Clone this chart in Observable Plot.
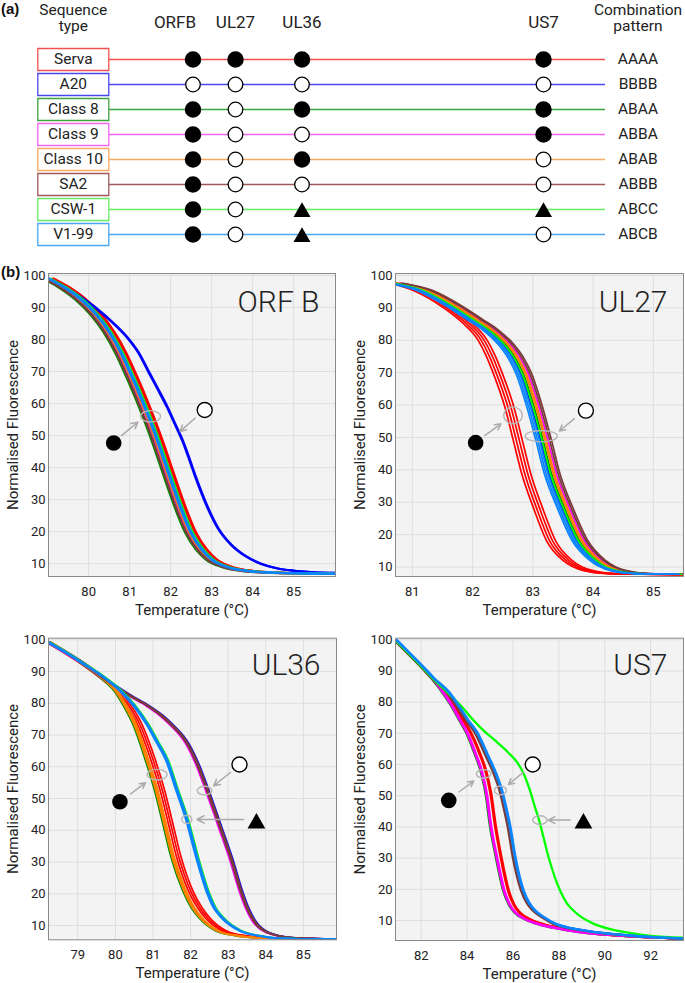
<!DOCTYPE html>
<html>
<head>
<meta charset="utf-8">
<script src="https://cdn.jsdelivr.net/npm/d3@7"></script>
<script src="https://cdn.jsdelivr.net/npm/@observablehq/plot@0.6"></script>
<style>
html,body{margin:0;padding:0;background:#fff;}
#fig{position:relative;width:685px;height:983px;overflow:hidden;font-family:Roboto,"DejaVu Sans",sans-serif;color:#222;}
.tag{position:absolute;font-family:"Liberation Sans",Arial,sans-serif;font-weight:bold;font-size:15px;color:#111;}
</style>
</head>
<body>
<div id="fig"></div>
<script>
// ---------------- DATA ----------------
const strains  = ["Serva", "A20", "Class 8", "Class 9", "Class 10", "SA2", "CSW-1", "V1-99"];
const patterns = ["AAAA", "BBBB", "ABAA", "ABBA", "ABAB", "ABBB", "ABCC", "ABCB"];
const genes      = ["ORFB", "UL27", "UL36", "US7"];
const geneTitles = ["ORF B", "UL27", "UL36", "US7"];

// melt curves per allele: [temperature (°C), normalised fluorescence]
const orfbA = [[79.02,99.0],[79.4,96.3],[79.8,92.6],[80.2,87.5],[80.5,82.3],[80.8,75.5],[81.05,68.5],[81.3,61],[81.5,54.5],[81.7,47.5],[81.9,40],[82.1,32.5],[82.3,25.5],[82.5,19.5],[82.75,14.5],[83.0,11.3],[83.4,8.9],[83.9,7.7],[84.5,7.2],[85.2,7.0],[86.02,6.9]];
const orfbB = [[79.02,99.0],[79.4,96.4],[79.8,93.2],[80.2,89.5],[80.6,85],[80.94,80.5],[81.2,76],[81.47,69.5],[81.7,64],[81.91,58.8],[82.1,53.5],[82.28,48.4],[82.45,42.5],[82.6,37],[82.89,27.6],[83.15,21],[83.46,16],[83.8,12.5],[84.19,10],[84.6,8.5],[85.0,7.8],[85.5,7.3],[86.02,7.1]];
const ul27A = [[80.72,97.6],[81.1,95.3],[81.58,90.2],[81.9,85.5],[82.17,79.9],[82.3,75.2],[82.42,69.7],[82.61,59.4],[82.75,49.1],[82.89,38.8],[83.08,28.5],[83.3,18.2],[83.58,12],[83.92,8.9],[84.3,8.0],[84.8,7.8],[85.5,7.7]];
const ul27B = [[80.72,97.6],[81.2,95.4],[81.69,90.6],[82.03,86.5],[82.31,83],[82.55,78.8],[82.72,74.5],[82.85,69.7],[83.03,59.4],[83.18,49.1],[83.32,38.8],[83.53,28.5],[83.78,18.2],[84.08,12],[84.42,8.9],[84.8,8.0],[85.5,7.8]];
const ul36A = [[78.22,99.2],[78.7,95.8],[79.16,92.2],[79.6,88.3],[80.0,83.8],[80.25,79],[80.49,73.5],[80.8,63],[81.07,52.5],[81.29,42],[81.51,31.4],[81.82,20.9],[82.05,15.5],[82.26,12.3],[82.7,8.3],[83.2,6.8],[83.8,6.1],[84.8,5.8],[85.88,5.7]];
const ul36B = [[78.22,99.2],[79.16,92.4],[79.96,85.6],[80.4,82.3],[80.84,79.3],[81.2,76.3],[81.46,73.5],[81.91,67.2],[82.17,60.9],[82.44,52.5],[82.75,42],[83.06,31.4],[83.33,20.9],[83.5,15.5],[83.68,11.4],[84.04,7.8],[84.66,6.2],[85.3,5.9],[85.88,5.8]];
const ul36C = [[78.22,99.2],[78.7,95.9],[79.16,92.4],[79.6,89],[80.13,84],[80.5,79.2],[80.84,73.5],[81.1,68],[81.37,62],[81.64,52.5],[81.9,43.4],[82.17,31.4],[82.44,20.9],[82.64,15.5],[82.84,12.5],[83.33,8.3],[83.8,6.8],[84.3,6.0],[85.0,5.8],[85.88,5.7]];
const us7A  = [[80.88,99.8],[81.5,95.2],[82.04,91.2],[82.5,87.4],[82.91,83.5],[83.3,79.2],[83.7,74],[84.0,70],[84.3,64.5],[84.65,57],[84.85,50],[85.01,41],[85.28,30.3],[85.6,19.6],[85.85,15],[86.1,12.5],[86.6,10.2],[87.17,8.7],[88.0,7.4],[88.62,6.6],[89.5,5.8],[90.8,5.1],[92.0,4.6],[93.43,4.2]];
const us7B  = [[80.88,99.8],[81.5,95.2],[82.04,91.2],[82.5,87.6],[83.13,83.3],[83.6,78.5],[84.0,74],[84.36,70.4],[84.87,62.4],[85.2,57],[85.45,51.7],[85.65,45.5],[85.81,40],[86.03,30.3],[86.39,19.6],[86.65,15.5],[86.9,13.2],[87.3,11],[87.77,9],[88.5,7.5],[89.07,6.8],[90.0,5.9],[91.0,5.2],[92.2,4.6],[93.43,4.2]];
const us7C  = [[80.88,99.8],[81.5,95.2],[82.04,91.2],[82.5,87.6],[83.13,83.2],[83.8,78.3],[84.3,74],[84.72,70.9],[85.3,67.2],[85.8,63.8],[86.2,60.5],[86.5,56.5],[86.75,51.5],[86.95,46.5],[87.12,42.6],[87.55,30.3],[88.05,19.6],[88.35,15.5],[88.63,13.2],[89.0,11],[89.5,9],[90.2,7.3],[90.95,6.2],[92.0,5.1],[93.43,4.5]];
// Serva traces that leave their allele band
const ul36Serva = [[78.22,99.2],[78.7,95.8],[79.16,92.3],[79.6,88.5],[80.0,84.5],[80.3,80.2],[80.6,74.5],[80.95,64],[81.25,52.5],[81.47,42],[81.69,31.4],[82.0,20.9],[82.25,15.5],[82.46,12.3],[82.9,8.3],[83.4,6.8],[84.0,6.1],[84.9,5.8],[85.88,5.7]];
const us7Serva  = [[80.88,99.8],[81.5,95.2],[82.04,91.2],[82.5,87.5],[82.91,83.7],[83.35,79.5],[83.85,74],[84.17,70],[84.5,64.5],[84.85,57],[85.05,50],[85.22,41],[85.48,30.3],[85.8,19.6],[86.05,15],[86.3,12.5],[86.8,10.2],[87.37,8.7],[88.2,7.4],[88.8,6.6],[89.6,5.8],[90.8,5.1],[92.0,4.6],[93.43,4.2]];

// replicate traces of each strain: temperature shift (°C) from its curve
const orfbShifts = [[0.10,0.13],[0,0.02],[-0.14],[-0.06],[-0.04],[-0.11],[0.05],[-0.01,0.02]];
const ul27Shifts = [[-0.075,-0.025,0.025,0.075],[-0.05],[-0.01],[0.07],[0.02,0.04],[0.10,0.13],[-0.03],[-0.13,-0.10,-0.07]];
const ul36Shifts = [[-0.06,0.0,0.06],[0.05],[-0.03],[-0.04],[0.0,0.03,0.06],[-0.01,0.01,0.03],[0.04],[-0.03,0.0,0.02]];
const us7Shifts  = [[-0.02,0.02],[0.02],[-0.03],[0.0,0.03],[0.0],[-0.04],[0.0],[0.05,0.08]];

// tick values
const orfbTicks = [80, 81, 82, 83, 84, 85];
const ul27Ticks = [81, 82, 83, 84, 85];
const ul36Ticks = [79, 80, 81, 82, 83, 84, 85];
const us7Ticks  = [82, 84, 86, 88, 90, 92];
const fluorTicks = [10, 20, 30, 40, 50, 60, 70, 80, 90, 100];

// ---------------- STYLE / LAYOUT ----------------
const FONT = "Roboto, 'DejaVu Sans', sans-serif";
const boxColors   = ["#f45050", "#4848f0", "#3fa33f", "#f466f4", "#f8a860", "#a05a5a", "#66ee66", "#4aa6f0"];
const curveColors = ["#ff0000", "#0000ff", "#008c00", "#ff00ff", "#ff8000", "#7a3b3b", "#00ff00", "#0a84ff"];

const meltCurves = {ORFB: {A: orfbA, B: orfbB}, UL27: {A: ul27A, B: ul27B}, UL36: {A: ul36A, B: ul36B, C: ul36C}, US7: {A: us7A, B: us7B, C: us7C}};
const strainCurves = {UL36: {"Serva": ul36Serva}, US7: {"Serva": us7Serva}};
const traceShifts = {ORFB: orfbShifts, UL27: ul27Shifts, UL36: ul36Shifts, US7: us7Shifts};
const tempTicks = {ORFB: orfbTicks, UL27: ul27Ticks, UL36: ul36Ticks, US7: us7Ticks};

const layoutA = {
  boxX: 72.8, boxW: 71, boxH: 22, lineX1: 108.3, lineX2: 605, patternX: 637.5, rowRange: [56.5, 236.5],
  geneX: {ORFB: 192.5, UL27: 235, UL36: 301.5, US7: 543},
  geneHeadX: {ORFB: 174.5, UL27: 235, UL36: 301.5, US7: 543}
};
const panelLayout = {
  ORFB: {left: 0,   top: 250, width: 345, height: 375, margin: [23, 10, 49, 48],     xDomain: [79.02, 86.02], yDomain: [6.0, 100.6], xLabelDy: 34,   titleDy: 29, lineWidth: 2.2},
  UL27: {left: 345, top: 250, width: 340, height: 375, margin: [23, 2, 49, 50],      xDomain: [80.72, 85.5],  yDomain: [7.1, 100.6], xLabelDy: 34,   titleDy: 29, lineWidth: 1.7},
  UL36: {left: 0,   top: 625, width: 345, height: 358, margin: [12.7, 9, 43.7, 48],  xDomain: [78.22, 85.88], yDomain: [5.5, 100.5], xLabelDy: 33.5, titleDy: 27, lineWidth: 1.7},
  US7:  {left: 345, top: 625, width: 340, height: 358, margin: [12.7, 2, 43, 50],    xDomain: [80.88, 93.43], yDomain: [3.6, 100.5], xLabelDy: 33.5, titleDy: 27, lineWidth: 2.3}
};
// annotation glyphs in data units: [temperature, fluorescence]; rings: [t, f, rx(px), ry(px)]
const notes = {
  ORFB: {filled: [80.61, 47.7], open: [82.83, 58.0], tri: null,
         arrows: [[80.80, 50.0, 81.20, 54.2], [82.60, 55.5, 82.23, 51.3]],
         rings: [[81.51, 56.0, 10, 5.7]]},
  UL27: {filled: [82.05, 48.4], open: [83.88, 58.3], tri: null,
         arrows: [[82.20, 50.6, 82.47, 54.2], [83.69, 55.8, 83.44, 52.0]],
         rings: [[82.67, 56.8, 9.3, 8.3], [83.14, 50.4, 16, 5.7]]},
  UL36: {filled: [80.12, 49.0], open: [83.30, 60.7], tri: [83.75, 43.0],
         arrows: [[80.40, 51.4, 80.80, 55.0], [83.06, 58.2, 82.61, 54.0], [83.41, 43.4, 82.17, 43.4]],
         rings: [[81.11, 57.5, 10, 5.3], [82.37, 52.5, 7.3, 4.3], [81.90, 43.4, 5, 4]]},
  US7:  {filled: [83.20, 48.5], open: [86.86, 60.0], tri: [89.07, 42.0],
         arrows: [[83.64, 51.2, 84.29, 54.7], [86.45, 57.5, 85.80, 53.6], [88.49, 42.2, 87.54, 42.2]],
         rings: [[84.72, 57.0, 7.3, 4.3], [85.45, 51.7, 6, 4.3], [87.17, 42.2, 7.3, 4.3]]}
};

// ---------------- RENDER ----------------
const fig = document.getElementById("fig");
function place(node, left, top) {
  node.style.position = "absolute";
  node.style.left = left + "px";
  node.style.top = top + "px";
  fig.appendChild(node);
}
function tag(text, left, top) {
  const d = document.createElement("div");
  d.className = "tag"; d.textContent = text;
  d.style.left = left + "px"; d.style.top = top + "px";
  fig.appendChild(d);
}
function ellipse(rx, ry) {
  const k = 0.5523;
  return {draw(ctx) {
    ctx.moveTo(rx, 0);
    ctx.bezierCurveTo(rx, ry * k, rx * k, ry, 0, ry);
    ctx.bezierCurveTo(-rx * k, ry, -rx, ry * k, -rx, 0);
    ctx.bezierCurveTo(-rx, -ry * k, -rx * k, -ry, 0, -ry);
    ctx.bezierCurveTo(rx * k, -ry, rx, -ry * k, rx, 0);
    ctx.closePath();
  }};
}

// ----- panel (a)
const A = layoutA;
const rows = strains.map((s, i) => ({strain: s, pattern: patterns[i]}));
const calls = [];
strains.forEach((s, i) => genes.forEach((g, j) => calls.push({strain: s, gene: g, allele: patterns[i][j]})));
const boxSym = {draw(ctx) { ctx.rect(-A.boxW / 2, -A.boxH / 2, A.boxW, A.boxH); }};

const plotA = Plot.plot({
  width: 685, height: 250, marginTop: 0, marginRight: 0, marginBottom: 0, marginLeft: 0,
  style: {fontFamily: FONT, fontSize: "15.5px", background: "transparent", overflow: "visible", color: "#222"},
  x: {domain: [0, 685], range: [0, 685], axis: null},
  y: {type: "point", domain: strains, range: A.rowRange, padding: 0, axis: null},
  color: {domain: strains, range: boxColors},
  marks: [
    Plot.ruleY(rows, {y: "strain", x1: () => A.lineX1, x2: () => A.lineX2, stroke: "strain", strokeWidth: 1.4}),
    Plot.dot(rows, {x: () => A.boxX, y: "strain", symbol: boxSym, fill: "white", stroke: "strain", strokeWidth: 1.3}),
    Plot.text(rows, {x: () => A.boxX, y: "strain", text: "strain", fontSize: 15.5, fill: "#222"}),
    Plot.dot(calls.filter(d => d.allele === "A"), {x: d => A.geneX[d.gene], y: "strain", r: 7.5, fill: "black", stroke: "black"}),
    Plot.dot(calls.filter(d => d.allele === "B"), {x: d => A.geneX[d.gene], y: "strain", r: 7.3, fill: "white", stroke: "black", strokeWidth: 1.3}),
    Plot.dot(calls.filter(d => d.allele === "C"), {x: d => A.geneX[d.gene], y: "strain", symbol: "triangle", r: 6.3, fill: "black", dy: 2.5}),
    Plot.text(rows, {x: () => A.patternX, y: "strain", text: "pattern", fontSize: 15.5, fill: "#222"}),
    Plot.text(genes, {x: g => A.geneHeadX[g], frameAnchor: "top", dy: 22.2, lineAnchor: "middle", fontSize: 17, fill: "#222"}),
    Plot.text(["Sequence\ntype"], {x: () => A.boxX, frameAnchor: "top", dy: 17, lineAnchor: "middle", lineHeight: 1.05, fontSize: 15.5, fill: "#222"}),
    Plot.text(["Combination\npattern"], {x: () => A.patternX, frameAnchor: "top", dy: 17, lineAnchor: "middle", lineHeight: 1.05, fontSize: 15.5, fill: "#222"})
  ]
});
place(plotA, 0, 0);
tag("(a)", 1, 0);

// ----- panels (b)
function meltPanel(key) {
  const P = panelLayout[key];
  const gi = genes.indexOf(key);
  const traces = [];
  strains.forEach((s, i) => {
    const own = strainCurves[key] && strainCurves[key][s];
    const curve = own || meltCurves[key][patterns[i][gi]];
    traceShifts[key][i].forEach((dt, r) => {
      for (const [t, v] of curve) traces.push({strain: s, id: s + "#" + r, t: t + dt, v});
    });
  });
  const N = notes[key];
  const marks = [
    Plot.frame({fill: "#f3f3f3"}),
    Plot.gridX(tempTicks[key], {stroke: "#dedede", strokeOpacity: 1}),
    Plot.gridY(fluorTicks, {stroke: "#dedede", strokeOpacity: 1}),
    Plot.line(traces, {x: "t", y: "v", z: "id", stroke: "strain", strokeWidth: P.lineWidth, curve: "monotone-x", clip: true}),
    Plot.frame({stroke: "#8a8a8a", strokeWidth: 1}),
    Plot.axisX(tempTicks[key], {tickSize: 0, tickPadding: 10, label: null, fill: "#222"}),
    Plot.axisY(fluorTicks, {tickSize: 0, tickPadding: 3, label: null, fill: "#222"}),
    Plot.text(["Temperature (°C)"], {frameAnchor: "bottom", dy: P.xLabelDy, textAnchor: "middle", lineAnchor: "middle", fontSize: 15, fill: "#222"}),
    Plot.text(["Normalised Fluorescence"], {frameAnchor: "left", dx: -35.5, rotate: -90, textAnchor: "middle", lineAnchor: "middle", fontSize: 15, fill: "#222"}),
    Plot.text([geneTitles[gi]], {frameAnchor: "top-right", dx: -16, dy: P.titleDy, textAnchor: "end", lineAnchor: "middle", fontSize: 30, fontWeight: 300, fill: "#222"}),
    ...N.rings.map(([t, f, rx, ry]) => Plot.dot([[t, f]], {x: d => d[0], y: d => d[1], symbol: ellipse(rx, ry), stroke: "#b5b5b5", strokeWidth: 1.4, fill: "none"})),
    Plot.arrow(N.arrows, {x1: d => d[0], y1: d => d[1], x2: d => d[2], y2: d => d[3], stroke: "#ababab", strokeWidth: 1.5, headLength: 8, headAngle: 55}),
    Plot.dot([N.filled], {x: d => d[0], y: d => d[1], r: 7.8, fill: "black"}),
    Plot.dot([N.open], {x: d => d[0], y: d => d[1], r: 7.5, fill: "white", stroke: "black", strokeWidth: 1.4})
  ];
  if (N.tri) marks.push(Plot.dot([N.tri], {x: d => d[0], y: d => d[1], symbol: "triangle", r: 6.6, fill: "black", dy: 2.6}));
  const svg = Plot.plot({
    width: P.width, height: P.height,
    marginTop: P.margin[0], marginRight: P.margin[1], marginBottom: P.margin[2], marginLeft: P.margin[3],
    style: {fontFamily: FONT, fontSize: "13px", background: "transparent", overflow: "visible", color: "#222"},
    x: {domain: P.xDomain, axis: null},
    y: {domain: P.yDomain, axis: null},
    color: {domain: strains, range: curveColors},
    marks
  });
  place(svg, P.left, P.top);
}
genes.forEach(meltPanel);
tag("(b)", 1, 263);
</script>
</body>
</html>
